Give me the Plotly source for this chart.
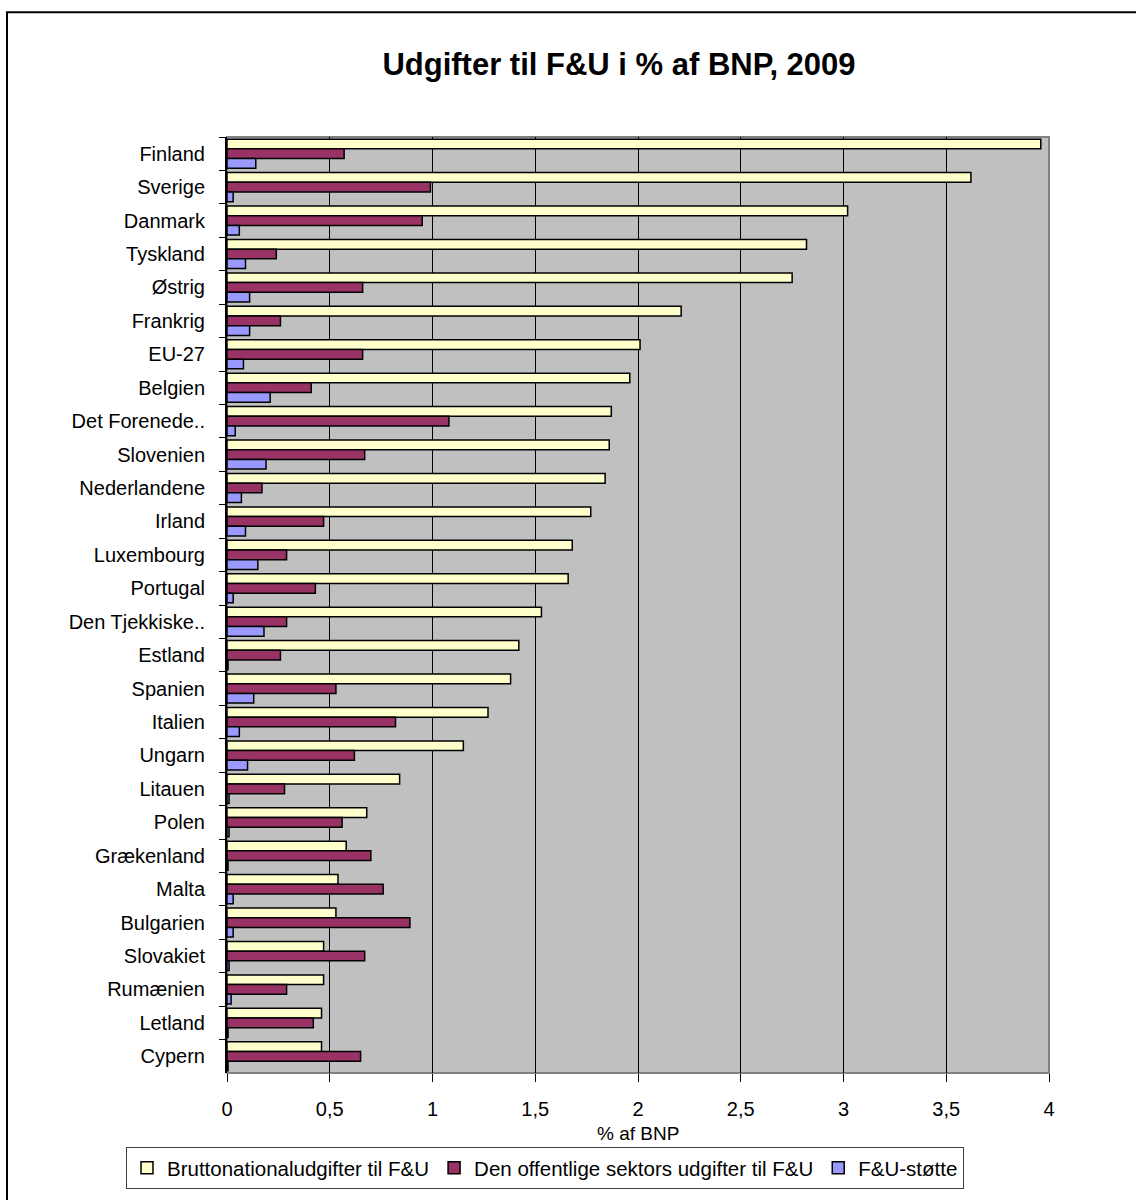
import plotly.graph_objects as go

# R&D expenditure as % of GDP, 2009
countries = [
    "Finland", "Sverige", "Danmark", "Tyskland", "Østrig", "Frankrig", "EU-27",
    "Belgien", "Det Forenede..", "Slovenien", "Nederlandene", "Irland",
    "Luxembourg", "Portugal", "Den Tjekkiske..", "Estland", "Spanien", "Italien",
    "Ungarn", "Litauen", "Polen", "Grækenland", "Malta", "Bulgarien",
    "Slovakiet", "Rumænien", "Letland", "Cypern",
]
gross_rd = [
    3.96, 3.62, 3.02, 2.82, 2.75, 2.21, 2.01, 1.96, 1.87, 1.86, 1.84, 1.77,
    1.68, 1.66, 1.53, 1.42, 1.38, 1.27, 1.15, 0.84, 0.68, 0.58, 0.54, 0.53,
    0.47, 0.47, 0.46, 0.46,
]
public_rd = [
    0.57, 0.99, 0.95, 0.24, 0.66, 0.26, 0.66, 0.41, 1.08, 0.67, 0.17, 0.47,
    0.29, 0.43, 0.29, 0.26, 0.53, 0.82, 0.62, 0.28, 0.56, 0.70, 0.76, 0.89,
    0.67, 0.29, 0.42, 0.65,
]
rd_support = [
    0.14, 0.03, 0.06, 0.09, 0.11, 0.11, 0.08, 0.21, 0.04, 0.19, 0.07, 0.09,
    0.15, 0.03, 0.18, 0.005, 0.13, 0.06, 0.10, 0.01, 0.01, 0.005, 0.03, 0.03,
    0.01, 0.02, 0.005, 0.005,
]
series_names = [
    "Bruttonationaludgifter til F&U",
    "Den offentlige sektors udgifter til F&U",
    "F&U-støtte",
]
series_colors = ["#FFFFCC", "#993366", "#9999FF"]
x_ticks = [0, 0.5, 1, 1.5, 2, 2.5, 3, 3.5, 4]

FONT = "Arial, 'Liberation Sans', sans-serif"

fig = go.Figure()
for name, vals, col in zip(series_names, [gross_rd, public_rd, rd_support], series_colors):
    fig.add_trace(go.Bar(
        name=name, x=vals, y=countries, orientation="h",
        marker=dict(color=col, line=dict(color="black", width=1.5)),
    ))

# plot area geometry (pixels)
L, R, T, B = 227, 1049, 137, 1074
W, H = 1136, 1200
pw, ph = R - L, B - T

def px_x(x):
    return (x - L) / pw

def px_y(y):
    return (B - y) / ph

fig.update_layout(
    width=W, height=H,
    margin=dict(l=L, r=W - R, t=T, b=H - B, pad=0),
    paper_bgcolor="white",
    plot_bgcolor="#C0C0C0",
    barmode="group",
    bargap=0.13,
    bargroupgap=0,
    separators=",.",
    font=dict(family=FONT, size=20, color="black"),
    title=dict(
        text="<b>Udgifter til F&U i % af BNP, 2009</b>",
        x=619 / W, xanchor="center", xref="container",
        y=1 - 64 / H, yanchor="middle", yref="container",
        font=dict(family=FONT, size=31, color="black"),
    ),
    showlegend=True,
    legend=dict(
        orientation="h",
        x=px_x(126), xanchor="left",
        y=px_y(1147), yanchor="top",
        bgcolor="white", bordercolor="#404040", borderwidth=1,
        font=dict(family=FONT, size=20.5, color="black"),
        traceorder="normal",
        itemwidth=30,
    ),
    xaxis=dict(
        range=[0, 4], tickvals=x_ticks, tickformat=",.1~f",
        showgrid=True, gridcolor="black", gridwidth=1,
        zeroline=False, showline=False,
        ticks="outside", ticklen=8, tickcolor="black", tickwidth=1,
        ticklabelstandoff=10,
        tickfont=dict(family=FONT, size=20, color="black"),
        fixedrange=True,
    ),
    yaxis=dict(
        autorange="reversed",
        showgrid=False, zeroline=False,
        showline=True, linecolor="black", linewidth=2,
        ticks="outside", tickson="boundaries", ticklen=6, tickcolor="black",
        ticklabelstandoff=16,
        tickfont=dict(family=FONT, size=20, color="black"),
        fixedrange=True,
    ),
    shapes=[
        # grey plot-area border
        dict(type="rect", xref="paper", yref="paper", x0=0, x1=1, y0=0, y1=1,
             line=dict(color="#808080", width=2), layer="below"),
        # outer black frame
        dict(type="rect", xref="paper", yref="paper",
             x0=px_x(7), x1=px_x(1150), y0=px_y(1215), y1=px_y(12),
             line=dict(color="black", width=2)),
    ],
    annotations=[
        dict(text="% af BNP", xref="paper", yref="paper",
             x=0.5, y=px_y(1135), xanchor="center", yanchor="middle",
             showarrow=False, font=dict(family=FONT, size=19, color="black")),
    ],
)

fig.write_html("out.html")
